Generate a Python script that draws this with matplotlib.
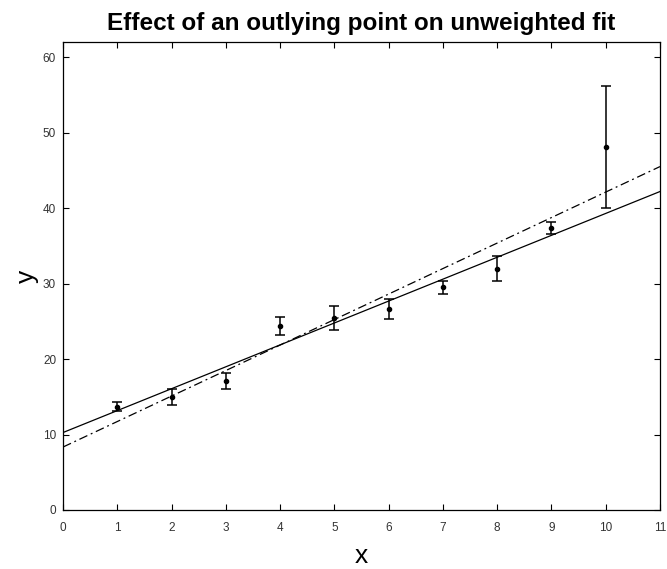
import numpy as np
import matplotlib
matplotlib.use("Agg")
import matplotlib.pyplot as plt

plt.rcParams['font.family'] = ['Liberation Sans', 'DejaVu Sans']

# data
x = np.array([1, 2, 3, 4, 5, 6, 7, 8, 9, 10])
y = np.array([13.7, 15.0, 17.1, 24.4, 25.4, 26.65, 29.5, 32.0, 37.4, 48.1])
err = np.array([0.57, 1.04, 1.05, 1.2, 1.6, 1.33, 0.82, 1.7, 0.78, 8.1])

# weighted and unweighted straight-line fits
pw = np.polyfit(x, y, 1, w=1.0 / err)
pu = np.polyfit(x, y, 1)

fig = plt.figure(figsize=(6.67, 5.69), dpi=100)
ax = fig.add_axes([0.0945, 0.1037, 0.895, 0.8223])

xx = np.array([0, 11])
ax.plot(xx, np.polyval(pw, xx), color='black', lw=0.9, ls='-')
ax.plot(xx, np.polyval(pu, xx), color='black', lw=0.9, ls=(0, (7, 3, 1.5, 3)))
ax.errorbar(x, y, yerr=err, fmt='o', color='black', ms=3, capsize=3.3,
            elinewidth=1.1, capthick=1.1)

ax.set_xlim(0, 11)
ax.set_ylim(0, 62)
ax.set_xticks(range(0, 12))
ax.set_yticks(range(0, 61, 10))
ax.tick_params(direction='in', top=True, right=True, length=4, width=0.8,
               labelsize=8.5, labelcolor='#333333')
ax.tick_params(axis='x', pad=9)
ax.tick_params(axis='y', pad=5)
for s in ax.spines.values():
    s.set_linewidth(0.9)

ax.set_xlabel('x', fontsize=19, labelpad=7)
ax.set_ylabel('y', fontsize=19, labelpad=3)
ax.set_title('Effect of an outlying point on unweighted fit', fontsize=17.5,
             fontweight='bold', pad=9)

fig.savefig('out.png', dpi=100)
